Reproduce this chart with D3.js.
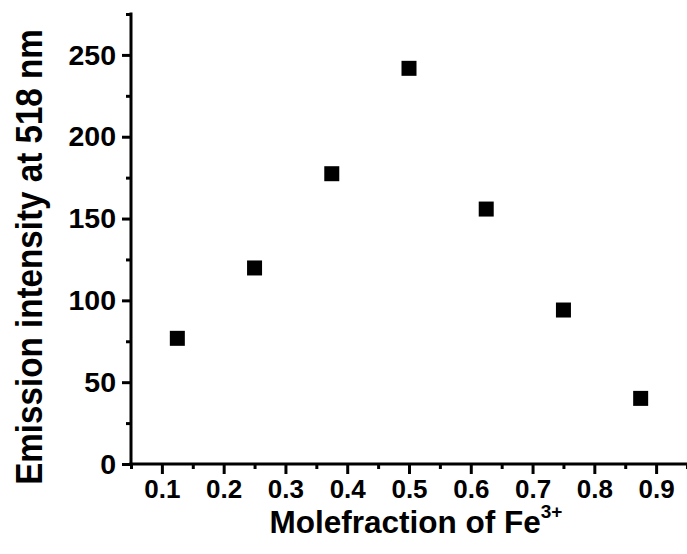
<!DOCTYPE html>
<html>
<head>
<meta charset="utf-8">
<script src="https://cdn.jsdelivr.net/npm/d3@7"></script>
<style>
  html, body { margin: 0; padding: 0; background: #fff; }
  svg { display: block; font-family: "Liberation Sans", Arial, sans-serif; font-weight: bold; }
</style>
</head>
<body>
<script>
// Emission intensity at 518 nm versus mole fraction of Fe3+ (Job's plot)
const moleFraction = [0.125, 0.25, 0.375, 0.5, 0.625, 0.75, 0.875];
const intensity    = [76.8, 119.8, 177.4, 241.8, 155.8, 94.1, 40.1];

const xMajorTicks = [0.1, 0.2, 0.3, 0.4, 0.5, 0.6, 0.7, 0.8, 0.9];
const xMinorTicks = [0.05, 0.15, 0.25, 0.35, 0.45, 0.55, 0.65, 0.75, 0.85, 0.95];
const yMajorTicks = [0, 50, 100, 150, 200, 250];
const yMinorTicks = [25, 75, 125, 175, 225, 275];

const W = 687, H = 554;
const svg = d3.select("body").append("svg").attr("width", W).attr("height", H);

const x = d3.scaleLinear().domain([0.05, 0.95]).range([131, 687]);
const y = d3.scaleLinear().domain([0, 275]).range([464, 14]);

// minor ticks
svg.append("g").attr("transform", "translate(0,464)")
  .call(d3.axisBottom(x).tickValues(xMinorTicks).tickSize(5).tickFormat(""))
  .call(g => g.select(".domain").remove());
svg.append("g").attr("transform", "translate(131,0)")
  .call(d3.axisLeft(y).tickValues(yMinorTicks).tickSize(5).tickFormat(""))
  .call(g => g.select(".domain").remove());

// major ticks with labels
const xAxis = svg.append("g").attr("transform", "translate(0,464)")
  .call(d3.axisBottom(x).tickValues(xMajorTicks).tickSize(10).tickPadding(6)
        .tickFormat(d3.format(".1f")));
xAxis.select(".domain").remove();
xAxis.selectAll("text").attr("font-size", 26).attr("font-weight", "bold")
  .attr("font-family", "'Liberation Sans', Arial, sans-serif").attr("fill", "#000");

const yAxis = svg.append("g").attr("transform", "translate(131,0)")
  .call(d3.axisLeft(y).tickValues(yMajorTicks).tickSize(9).tickPadding(6)
        .tickFormat(d3.format("d")));
yAxis.select(".domain").remove();
yAxis.selectAll("text").attr("font-size", 28.5).attr("font-weight", "bold")
  .attr("font-family", "'Liberation Sans', Arial, sans-serif").attr("fill", "#000");

svg.selectAll(".tick line").attr("stroke", "#000").attr("stroke-width", 3);

// axis lines
svg.append("line").attr("x1", x(0.05)).attr("x2", x(0.95)).attr("y1", y(0)).attr("y2", y(0))
  .attr("stroke", "#000").attr("stroke-width", 3).attr("stroke-linecap", "square");
svg.append("line").attr("x1", x(0.05)).attr("x2", x(0.05)).attr("y1", y(0)).attr("y2", y(275))
  .attr("stroke", "#000").attr("stroke-width", 3).attr("stroke-linecap", "square");

// data points
const s = 15;
svg.append("g").selectAll("rect")
  .data(moleFraction.map((m, i) => ({ m, v: intensity[i] })))
  .join("rect")
  .attr("x", d => x(d.m) - s / 2)
  .attr("y", d => y(d.v) - s / 2)
  .attr("width", s).attr("height", s)
  .attr("fill", "#000");

// axis titles
const xt = svg.append("text")
  .attr("x", 416).attr("y", 533)
  .attr("text-anchor", "middle")
  .attr("font-size", 31.5).attr("fill", "#000");
xt.append("tspan").text("Molefraction of Fe");
xt.append("tspan").attr("dy", -15).attr("font-size", 19).text("3+");

// y title: slightly condensed bold lettering
svg.append("text")
  .attr("transform", "translate(42,257) rotate(-90) scale(0.91,1)")
  .attr("text-anchor", "middle")
  .attr("font-size", 36.5).attr("fill", "#000")
  .text("Emission intensity at 518 nm");
</script>
</body>
</html>
